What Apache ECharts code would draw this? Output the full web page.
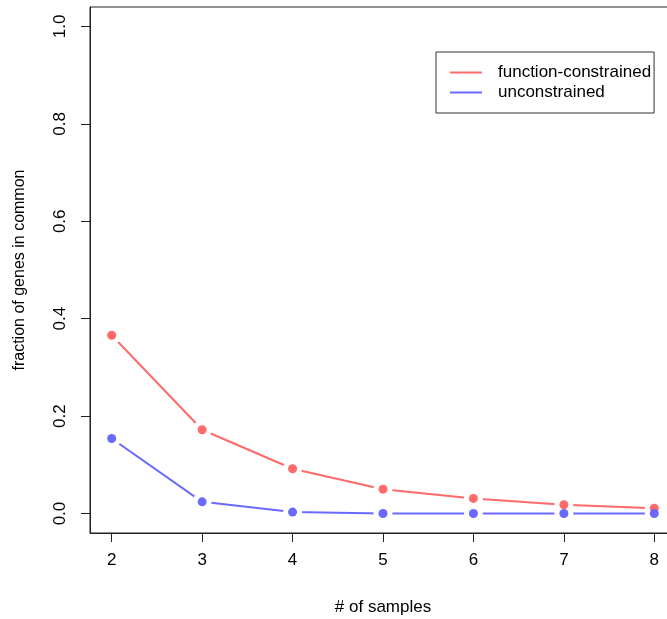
<!DOCTYPE html>
<html>
<head>
<meta charset="utf-8">
<script src="https://cdn.jsdelivr.net/npm/echarts@6/dist/echarts.min.js"></script>
<style>
html,body{margin:0;padding:0;background:#fff;}
#chart{width:667px;height:619px;}
</style>
</head>
<body>
<div id="chart"></div>
<script>
var samples=[2,3,4,5,6,7,8];
var constrained=[0.366,0.172,0.092,0.050,0.031,0.018,0.011];
var unconstrained=[0.154,0.024,0.003,0.0,0.0,0.0,0.0];
var xTicks=[2,3,4,5,6,7,8];
var yTicks=[0,0.2,0.4,0.6,0.8,1.0];
var seriesNames=['function-constrained','unconstrained'];
var colors=['#FF6A6A','#6A6AFF'];

var font='"Liberation Sans", Arial, sans-serif';

function pairs(vals){
	var out=[];
	for(var i=0;i<samples.length;i++){
		out.push([samples[i],vals[i]]);
	}
	return out;
}

var allData=[pairs(constrained),pairs(unconstrained)];
var series=[];
// lines first, white masks over them, then the dots (R type="b" look)
for(var k=0;k<2;k++){
	series.push({
		name:seriesNames[k],
		type:'line',
		data:allData[k],
		showSymbol:false,
		symbol:'none',
		z:2,
		lineStyle:{color:colors[k],width:2},
		itemStyle:{color:colors[k]}
	});
}
for(var k=0;k<2;k++){
	series.push({
		name:'mask'+k,
		type:'scatter',
		data:allData[k],
		symbolSize:19,
		silent:true,
		z:3,
		itemStyle:{color:'#fff',opacity:1}
	});
}
for(var k=0;k<2;k++){
	series.push({
		name:'pt'+k,
		type:'scatter',
		data:allData[k],
		symbolSize:9,
		silent:true,
		z:4,
		itemStyle:{color:colors[k],opacity:1}
	});
}

var myChart=echarts.init(document.getElementById('chart'));
var option={
	animation:false,
	backgroundColor:'#fff',
	textStyle:{fontFamily:font},
	grid:{
		left:90,
		top:7,
		width:586,
		height:526,
		show:true,
		borderColor:'#222',
		borderWidth:1,
		outerBoundsMode:'none',
		containLabel:false
	},
	legend:{
		data:seriesNames,
		orient:'vertical',
		left:436,
		top:52,
		padding:[12,3,12,14],
		itemGap:3,
		itemWidth:32,
		itemHeight:2,
		icon:'rect',
		borderColor:'#333',
		borderWidth:1,
		backgroundColor:'#fff',
		textStyle:{fontFamily:font,fontSize:17,color:'#000',lineHeight:17,padding:[0,0,0,11]}
	},
	xAxis:{
		type:'value',
		min:1.76,
		max:8.24,
		name:'# of samples',
		nameLocation:'middle',
		nameGap:66,
		nameTextStyle:{fontFamily:font,fontSize:17,color:'#000'},
		axisLine:{show:true,onZero:false,lineStyle:{color:'#222',width:1}},
		axisTick:{show:true,length:9,customValues:xTicks,lineStyle:{color:'#222'}},
		axisLabel:{customValues:xTicks,margin:19,fontFamily:font,fontSize:17,color:'#000',
			formatter:function(v){return String(v);}},
		splitLine:{show:false}
	},
	yAxis:{
		type:'value',
		min:-0.04,
		max:1.04,
		name:'fraction of genes in common',
		nameLocation:'middle',
		nameRotate:90,
		nameGap:62,
		nameTextStyle:{fontFamily:font,fontSize:16,color:'#000'},
		axisLine:{show:true,onZero:false,lineStyle:{color:'#222',width:1}},
		axisTick:{show:true,length:9,customValues:yTicks,lineStyle:{color:'#222'}},
		axisLabel:{customValues:yTicks,rotate:90,margin:21,fontFamily:font,fontSize:17,color:'#000',
			formatter:function(v){return v.toFixed(1);}},
		splitLine:{show:false}
	},
	series:series
};
myChart.setOption(option);
</script>
</body>
</html>
